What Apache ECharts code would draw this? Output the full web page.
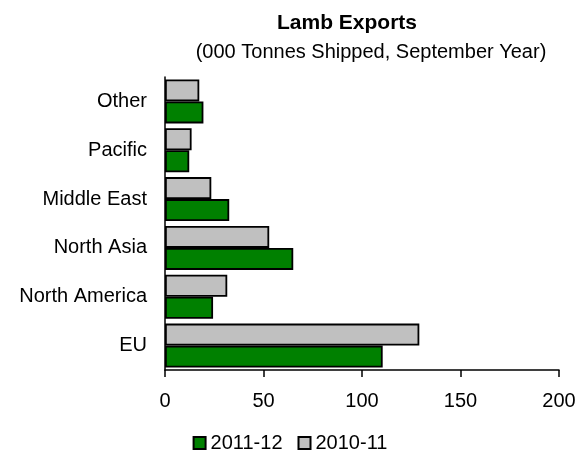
<!DOCTYPE html>
<html>
<head>
<meta charset="utf-8">
<script src="https://cdn.jsdelivr.net/npm/echarts@6/dist/echarts.min.js"></script>
<style>
  html, body { margin: 0; padding: 0; background: #fff; }
  #chart { width: 580px; height: 458px; }
</style>
</head>
<body>
<div id="chart"></div>
<script>
// Lamb export destinations, bottom to top on the category axis
const regions = ['EU', 'North America', 'North Asia', 'Middle East', 'Pacific', 'Other'];
const season2012 = [110.5, 24.4, 65.1, 32.6, 12.3, 19.5];   // 2011-12
const season2011 = [129.1, 31.6, 52.9, 23.5, 13.5, 17.4];   // 2010-11
const xTicks = [0, 50, 100, 150, 200];

const font = 'Liberation Sans, Arial, sans-serif';
const chart = echarts.init(document.getElementById('chart'));

chart.setOption({
  animation: false,
  textStyle: { fontFamily: font },
  title: [
    {
      text: 'Lamb Exports',
      left: 342, top: 8, textAlign: 'center',
      textStyle: { fontFamily: font, fontSize: 21, fontWeight: 'bold', color: '#000' }
    },
    {
      text: '(000 Tonnes Shipped, September Year)',
      left: 366, top: 37, textAlign: 'center',
      textStyle: { fontFamily: font, fontSize: 20, fontWeight: 'normal', color: '#000' }
    }
  ],
  legend: {
    top: 428,
    left: 'center',
    itemWidth: 12, itemHeight: 12, itemGap: 15,
    icon: 'rect',
    textStyle: { fontFamily: font, fontSize: 20, color: '#000' },
    data: ['2011-12', '2010-11']
  },
  grid: { left: 165, right: 21, top: 77, bottom: 88 },
  xAxis: {
    type: 'value',
    min: xTicks[0], max: xTicks[xTicks.length - 1], interval: 50,
    axisLine: { show: true, lineStyle: { color: '#000', width: 1.5 } },
    axisTick: { show: true, length: 7, inside: false, lineStyle: { color: '#000', width: 1.5 } },
    axisLabel: { fontFamily: font, fontSize: 20, color: '#000', margin: 21 },
    splitLine: { show: false }
  },
  yAxis: {
    type: 'category',
    data: regions,
    axisLine: { show: true, lineStyle: { color: '#000', width: 1.5 } },
    axisTick: { show: false },
    axisLabel: { fontFamily: font, fontSize: 20, color: '#000', margin: 18 }
  },
  // 2010-11 is listed first so it sits above 2011-12 within each band
  series: [
    {
      name: '2010-11', type: 'bar', data: season2011,
      barGap: '0%', barCategoryGap: '10%',
      itemStyle: { color: '#c0c0c0', borderColor: '#000', borderWidth: 1.8 }
    },
    {
      name: '2011-12', type: 'bar', data: season2012,
      barGap: '0%', barCategoryGap: '10%',
      itemStyle: { color: '#008000', borderColor: '#000', borderWidth: 1.8 }
    }
  ]
});
</script>
</body>
</html>
